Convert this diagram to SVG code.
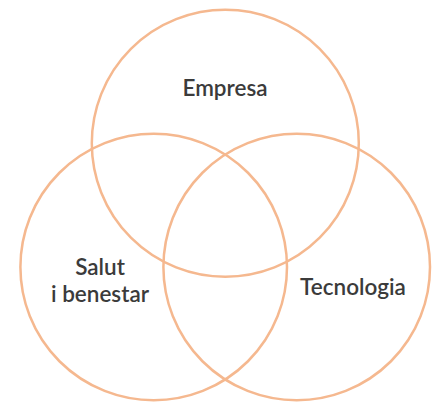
<svg xmlns="http://www.w3.org/2000/svg" width="437" height="402" viewBox="0 0 437 402">
<style>
.c{fill:none;stroke:#f5b88f;stroke-width:2.5}
.t{font-family:Lato,"Open Sans",sans-serif;font-size:22.5px;fill:#3b3b3b;text-anchor:middle;font-weight:600}
</style>
<rect width="437" height="402" fill="#fff"/>
<g id="empresa"><circle class="c" cx="225.3" cy="143.3" r="133.5"/><text class="t" x="225" y="96">Empresa</text></g>
<g id="salut"><circle class="c" cx="153.7" cy="267" r="133.3"/><text class="t" x="100" y="275">Salut</text><text class="t" x="100" y="301.5">i benestar</text></g>
<g id="tecnologia"><circle class="c" cx="296.7" cy="267" r="133.3"/><text class="t" x="353" y="295">Tecnologia</text></g>
<g id="connectors"/>
</svg>
